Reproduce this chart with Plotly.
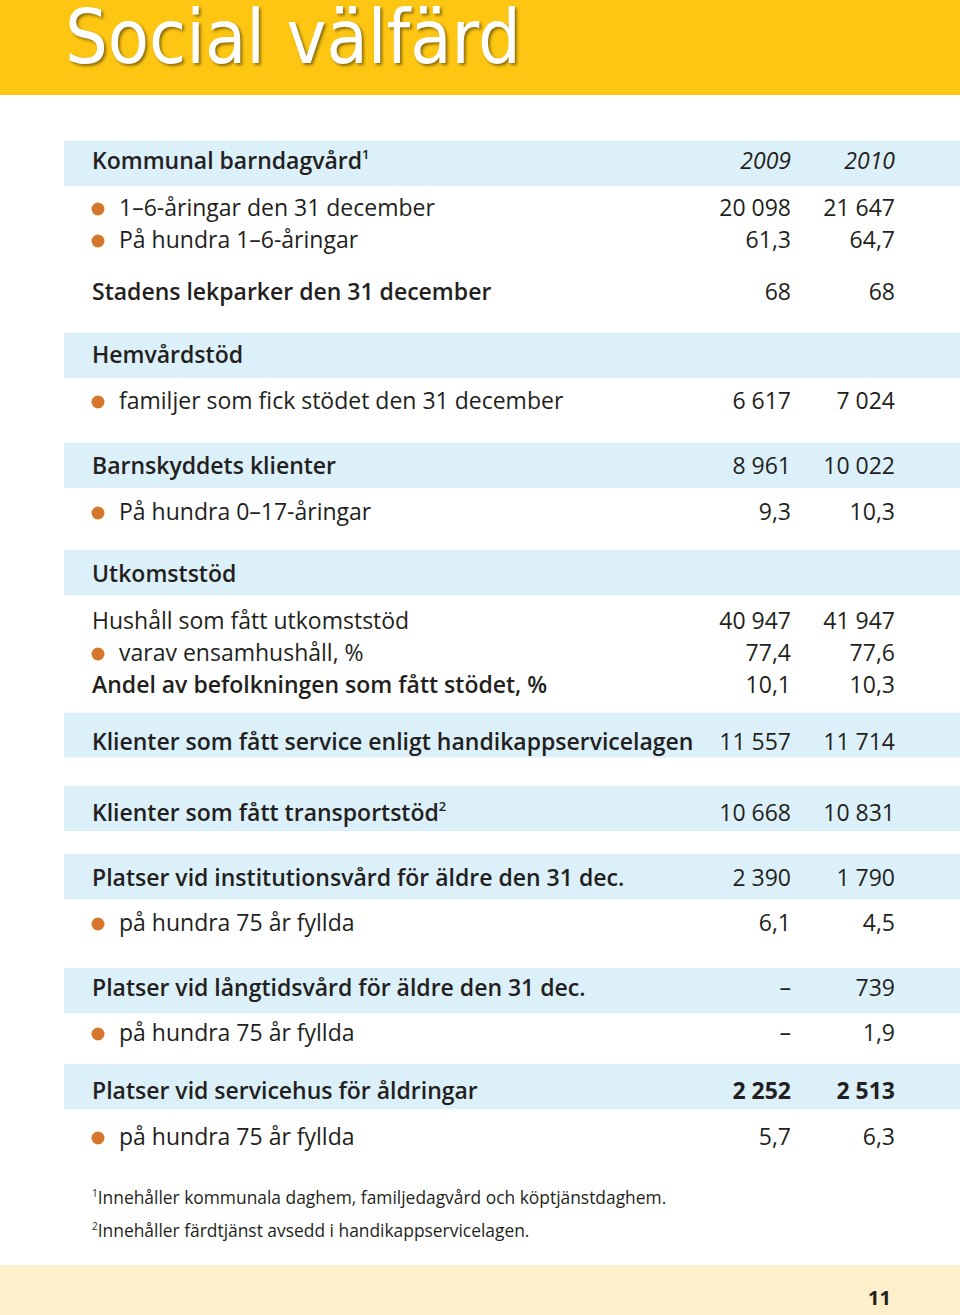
import plotly.graph_objects as go

# --- data ---------------------------------------------------------------
labels = [
    "Kommunal barndagvård<sup><span style='font-size:13px'>1</span></sup>",
    "1–6-åringar den 31 december",
    "På hundra 1–6-åringar",
    "Stadens lekparker den 31 december",
    "Hemvårdstöd",
    "familjer som fick stödet den 31 december",
    "Barnskyddets klienter",
    "På hundra 0–17-åringar",
    "Utkomststöd",
    "Hushåll som fått utkomststöd",
    "varav ensamhushåll, %",
    "Andel av befolkningen som fått stödet, %",
    "Klienter som fått service enligt handikappservicelagen",
    "Klienter som fått transportstöd<sup><span style='font-size:13px'>2</span></sup>",
    "Platser vid institutionsvård för äldre den 31 dec.",
    "på hundra 75 år fyllda",
    "Platser vid långtidsvård för äldre den 31 dec.",
    "på hundra 75 år fyllda",
    "Platser vid servicehus för åldringar",
    "på hundra 75 år fyllda",
]
# band = header on blue strip, bullet = sub row, bold = bold row, plain = regular row
kinds = ["band", "bullet", "bullet", "bold", "band", "bullet", "band", "bullet",
         "band", "plain", "bullet", "bold", "band", "band", "band", "bullet",
         "band", "bullet", "band", "bullet"]
years = ["2009", "2010"]
v2009 = ["2009", "20 098", "61,3", "68", "", "6 617", "8 961", "9,3", "",
         "40 947", "77,4", "10,1", "11 557", "10 668", "2 390", "6,1",
         "–", "–", "2 252", "5,7"]
v2010 = ["2010", "21 647", "64,7", "68", "", "7 024", "10 022", "10,3", "",
         "41 947", "77,6", "10,3", "11 714", "10 831", "1 790", "4,5",
         "739", "1,9", "2 513", "6,3"]
bold_values = [False] * 18 + [True, False]
footnotes = [
    "<sup><span style='font-size:10px'>1</span></sup>Innehåller kommunala daghem, familjedagvård och köptjänstdaghem.",
    "<sup><span style='font-size:10px'>2</span></sup>Innehåller färdtjänst avsedd i handikappservicelagen.",
]
title = "Social välfärd"
page_no = "11"

# --- layout positions (page pixels) ------------------------------------
row_y = [163, 210, 242, 294, 357, 403, 468, 514, 576, 623, 655, 687,
         744, 815, 880, 925, 990, 1035, 1093, 1139]
band_y = [163.5, 355.5, 465.5, 572.5, 735, 808.5, 876.5, 990.5, 1086.5]
col_x = {"label": 92, "bullet_label": 119, "bullet": 98, "2009": 791, "2010": 895}

W, H = 960, 1315
FONT = "Open Sans, sans-serif"
INK = "#231f20"
BLUE = "#dcf0fa"
YELLOW = "#fdc612"
CREAM = "#fdefc9"
ORANGE = "#d4772b"

fig = go.Figure()


def add_text(idx, xs, texts, weight=400, style="normal", pos="middle right", size=23):
    fig.add_trace(go.Scatter(
        x=xs, y=[row_y[i] for i in idx], text=texts, mode="text",
        textposition=pos,
        textfont=dict(family=FONT, size=size, color=INK, weight=weight, style=style),
        hoverinfo="skip", showlegend=False,
    ))


bold_rows = [i for i, k in enumerate(kinds) if k in ("band", "bold")]
plain_rows = [i for i, k in enumerate(kinds) if k == "plain"]
bullet_rows = [i for i, k in enumerate(kinds) if k == "bullet"]

add_text(bold_rows, [col_x["label"]] * len(bold_rows), [labels[i] for i in bold_rows], weight=600)
add_text(plain_rows, [col_x["label"]] * len(plain_rows), [labels[i] for i in plain_rows])
add_text(bullet_rows, [col_x["bullet_label"]] * len(bullet_rows), [labels[i] for i in bullet_rows])

# bullets
fig.add_trace(go.Scatter(
    x=[col_x["bullet"]] * len(bullet_rows), y=[row_y[i] - 1 for i in bullet_rows],
    mode="markers", marker=dict(color=ORANGE, size=13, line=dict(width=0)),
    hoverinfo="skip", showlegend=False,
))

# year header (italic) and values
add_text([0, 0], [col_x["2009"], col_x["2010"]], years, style="italic", pos="middle left")
for col, vals in (("2009", v2009), ("2010", v2010)):
    reg = [i for i in range(1, len(vals)) if vals[i] and not bold_values[i]]
    bld = [i for i in range(1, len(vals)) if vals[i] and bold_values[i]]
    add_text(reg, [col_x[col]] * len(reg), [vals[i] for i in reg], pos="middle left")
    add_text(bld, [col_x[col]] * len(bld), [vals[i] for i in bld], weight=700, pos="middle left")

shapes = [
    dict(type="rect", x0=0, x1=W, y0=0, y1=95, fillcolor=YELLOW, line_width=0, layer="below"),
    dict(type="rect", x0=0, x1=W, y0=1265, y1=H, fillcolor=CREAM, line_width=0, layer="below"),
]
for yc in band_y:
    shapes.append(dict(type="rect", x0=64, x1=W, y0=yc - 22.5, y1=yc + 22.5,
                       fillcolor=BLUE, line_width=0, layer="below"))

annotations = [
    dict(x=63, y=37, text=title, showarrow=False, xanchor="left", yanchor="middle",
         font=dict(family="Liberation Sans Narrow, DejaVu Sans Condensed, sans-serif",
                   size=75, color="white", shadow="2px 2px 3px rgba(0,0,0,0.45)")),
    dict(x=893, y=1297, text=page_no, showarrow=False, xanchor="right", yanchor="middle",
         font=dict(family=FONT, size=20, color=INK, weight=700)),
]
for fy, fn in zip([1197, 1230], footnotes):
    annotations.append(dict(x=90, y=fy, text=fn, showarrow=False, xanchor="left",
                            yanchor="middle", font=dict(family=FONT, size=17.4, color=INK)))

fig.update_layout(
    width=W, height=H,
    margin=dict(l=0, r=0, t=0, b=0),
    paper_bgcolor="white", plot_bgcolor="white",
    xaxis=dict(range=[0, W], visible=False, fixedrange=True),
    yaxis=dict(range=[H, 0], visible=False, fixedrange=True),
    shapes=shapes, annotations=annotations,
)

fig.write_html("out.html", config={"displayModeBar": False},
               post_script="document.body.style.margin='0';")
